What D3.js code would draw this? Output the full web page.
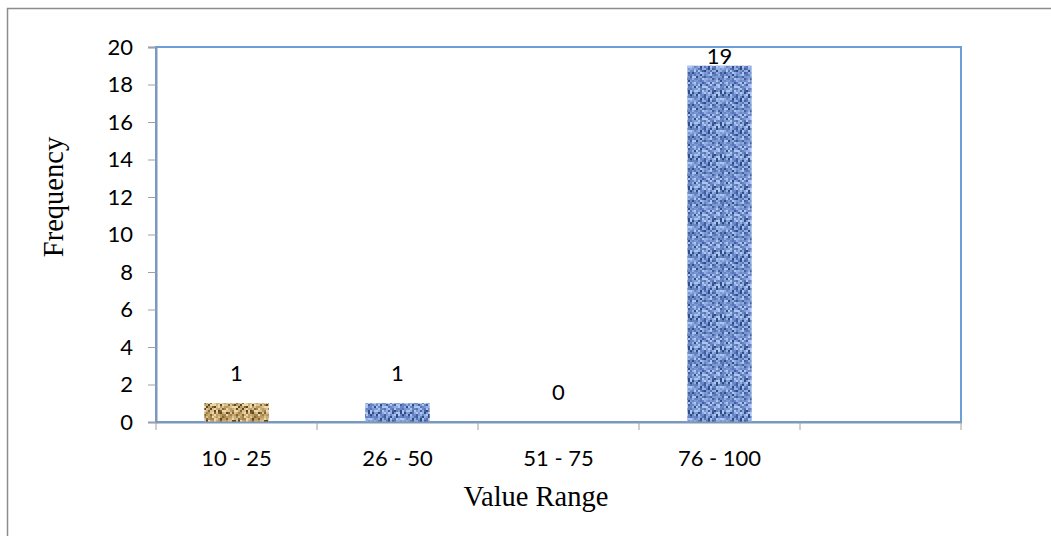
<!DOCTYPE html>
<html>
<head>
<meta charset="utf-8">
<script src="https://cdn.jsdelivr.net/npm/d3@7"></script>
<style>
  html, body { margin: 0; padding: 0; background: #fff; }
  svg { display: block; }
</style>
</head>
<body>
<svg id="chart" width="1051" height="536"></svg>
<script>
const categories = ["10 - 25", "26 - 50", "51 - 75", "76 - 100", ""];
const frequencies = [1, 1, 0, 19, null];
const barTextures = ["burlap", "denim", "denim", "denim", "denim"];
const yTicks = [0, 2, 4, 6, 8, 10, 12, 14, 16, 18, 20];
const xTitle = "Value Range";
const yTitle = "Frequency";

const svg = d3.select("#chart");
const W = 1051, H = 536;
const plot = { left: 156, top: 47, right: 961, bottom: 422 };

// outer chart border (only top/left visible in the frame)
svg.append("rect")
  .attr("x", 7.5).attr("y", 8.5)
  .attr("width", W + 20).attr("height", H + 20)
  .attr("fill", "#fff").attr("stroke", "#8c8c8c").attr("stroke-width", 1.5);

// woven textures (deterministic hash, styling only)
const defs = svg.append("defs");
function hash(i, j, s) {
  let h = (i * 374761393 + j * 668265263 + s * 2147483647) | 0;
  h = (h ^ (h >>> 13)) * 1274126177 | 0;
  h = h ^ (h >>> 16);
  return ((h >>> 0) % 1000) / 1000;
}
function makePattern(id, palette, seed) {
  const cell = 2, n = 16;
  const p = defs.append("pattern").attr("id", id)
    .attr("patternUnits", "userSpaceOnUse")
    .attr("width", cell * n).attr("height", cell * n);
  for (let i = 0; i < n; i++) {
    for (let j = 0; j < n; j++) {
      let t = hash(i, j, seed);
      // weave structure: lighter crossing threads, darker gaps
      if ((i % 3 === 0) !== (j % 3 === 0)) t = t * 0.6;
      if (i % 3 === 0 && j % 3 === 0) t = 0.4 + t * 0.6;
      const k = Math.min(palette.length - 1, Math.floor(t * palette.length));
      p.append("rect")
        .attr("x", j * cell).attr("y", i * cell)
        .attr("width", cell).attr("height", cell)
        .attr("fill", palette[k]);
    }
  }
}
makePattern("denim", ["#adc5ef", "#93afe2", "#7b98d3", "#6886c6", "#5674b6", "#42609f", "#2f4c88"], 7);
makePattern("burlap", ["#ecd8a8", "#dcc290", "#ccad74", "#bc9a60", "#a4834c", "#846636", "#5e4620"], 11);

const x = d3.scaleBand()
  .domain(categories)
  .range([plot.left, plot.right])
  .paddingInner(0.6)
  .paddingOuter(0.3);

const y = d3.scaleLinear()
  .domain([0, 20])
  .range([plot.bottom, plot.top]);

// plot area border
svg.append("rect")
  .attr("x", plot.left).attr("y", plot.top)
  .attr("width", plot.right - plot.left).attr("height", plot.bottom - plot.top)
  .attr("fill", "none").attr("stroke", "#6a9fd8").attr("stroke-width", 2);

// bars
const data = categories.map((c, i) => ({ c, v: frequencies[i], t: barTextures[i] }))
  .filter(d => d.v !== null);
svg.append("g").selectAll("rect").data(data.filter(d => d.v > 0)).join("rect")
  .attr("x", d => x(d.c))
  .attr("y", d => y(d.v))
  .attr("width", x.bandwidth())
  .attr("height", d => y(0) - y(d.v))
  .attr("fill", d => `url(#${d.t})`);

// y axis
const yAxis = d3.axisLeft(y).tickValues(yTicks).tickSize(8).tickPadding(15);
const gy = svg.append("g").attr("transform", `translate(${plot.left},0)`).call(yAxis);
gy.select(".domain").attr("stroke", "#7f97b6").attr("stroke-width", 2);
gy.selectAll(".tick line").attr("stroke", "#a0a0a0").attr("stroke-width", 1);
gy.selectAll(".tick text")
  .attr("font-family", "Lato, 'Open Sans', sans-serif")
  .attr("font-size", 22).attr("fill", "#000");

// x axis
const xAxis = d3.axisBottom(x).tickSize(0).tickPadding(28);
const gx = svg.append("g").attr("transform", `translate(0,${plot.bottom})`).call(xAxis);
gx.select(".domain").attr("stroke", "#7f97b6").attr("stroke-width", 2);
gx.selectAll(".tick text")
  .attr("font-family", "Lato, 'Open Sans', sans-serif")
  .attr("font-size", 22).attr("fill", "#000");

// x boundary tick marks
const boundaries = d3.range(categories.length + 1).map(i => plot.left + i * x.step());
svg.append("g").selectAll("line").data(boundaries).join("line")
  .attr("x1", d => d).attr("x2", d => d)
  .attr("y1", plot.bottom).attr("y2", plot.bottom + 8)
  .attr("stroke", "#a0a0a0").attr("stroke-width", 1);

// data labels
svg.append("g").selectAll("text").data(data).join("text")
  .attr("x", d => x(d.c) + x.bandwidth() / 2)
  .attr("y", d => Math.max(y(d.v) - 22, plot.top + 17))
  .attr("text-anchor", "middle")
  .attr("font-family", "Lato, 'Open Sans', sans-serif")
  .attr("font-size", 22).attr("fill", "#000")
  .text(d => d.v);

// axis titles
svg.append("text")
  .attr("x", 536).attr("y", 506)
  .attr("text-anchor", "middle")
  .attr("font-family", "'Liberation Serif', 'Times New Roman', serif")
  .attr("font-size", 28.5).attr("fill", "#000")
  .text(xTitle);

svg.append("text")
  .attr("transform", "translate(63,197) rotate(-90)")
  .attr("text-anchor", "middle")
  .attr("font-family", "'Liberation Serif', 'Times New Roman', serif")
  .attr("font-size", 28.5).attr("fill", "#000")
  .text(yTitle);
</script>
</body>
</html>
